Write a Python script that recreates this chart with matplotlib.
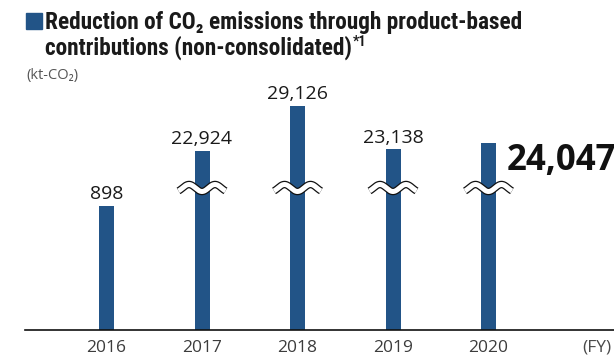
import numpy as np
import matplotlib
matplotlib.use("Agg")
import matplotlib.pyplot as plt
from matplotlib import font_manager
from matplotlib.patches import Rectangle
from matplotlib.transforms import blended_transform_factory

# ---- data ----
years = ["2016", "2017", "2018", "2019", "2020"]
values = [898, 22924, 29126, 23138, 24047]
labels = ["898", "22,924", "29,126", "23,138", "24,047"]
broken = [False, True, True, True, True]
title_lines = ["Reduction of CO\u2082 emissions through product-based",
               "contributions (non-consolidated)"]
title_note = "*1"
unit_label = "(kt-CO\u2082)"
x_unit = "(FY)"

# ---- fonts ----
avail = {f.name for f in font_manager.fontManager.ttflist}
body = "Open Sans" if "Open Sans" in avail else "DejaVu Sans"
cond = None
for cand in ["Liberation Sans Narrow", "Roboto Condensed", "Open Sans Condensed", "Roboto"]:
    if cand in avail:
        cond = cand
        break
if cond is None:
    cond = body
BODY = [body, "DejaVu Sans"]
COND = [cond, "DejaVu Sans"]

W, H, DPI = 614, 358, 100
fig = plt.figure(figsize=(W / DPI, H / DPI), dpi=DPI)
fig.patch.set_facecolor("white")

ax_left, ax_bottom_px, ax_top_px = 25, 330, 60
ax_h = ax_bottom_px - ax_top_px
ax = fig.add_axes([ax_left / W, (H - ax_bottom_px) / H, (W - ax_left) / W, ax_h / H])

# broken scale: value -> pixel height above baseline
slope = 45.0 / (29126 - 22924)
kv = np.array([-1e6, 0, 898, 22924, 1e6])
kp = np.array([-1e6 * 124 / 898, 0, 124, 179, 179 + (1e6 - 22924) * slope])


def fwd(v):
    return np.interp(v, kv, kp)


def inv(p):
    return np.interp(p, kp, kv)


ax.set_yscale("function", functions=(fwd, inv))
ax.set_ylim(0, inv(ax_h))

px_per_unit = 95.5
x0 = -81.5 / px_per_unit
ax.set_xlim(x0, x0 + (W - ax_left) / px_per_unit)

BAR = "#225487"
xs = np.arange(len(years))
ax.bar(xs, values, width=15 / px_per_unit, color=BAR, zorder=2)

for s in ["top", "left", "right"]:
    ax.spines[s].set_visible(False)
ax.spines["bottom"].set_color("#111111")
ax.spines["bottom"].set_linewidth(1.2)
ax.set_yticks([])
ax.set_xticks(xs)
ax.set_xticklabels(years, fontsize=12.5, color="#3c3c3c", family=BODY)
ax.tick_params(axis="x", length=0, pad=7)

bt = blended_transform_factory(ax.transData, ax.transAxes)
ax.text(x0 + (582 - ax_left) / px_per_unit, -(352 - ax_bottom_px) / ax_h, x_unit,
        transform=bt, fontsize=12.5, color="#4a4a4a", family=BODY, ha="left", va="baseline")

# value labels
for i, (v, lab) in enumerate(zip(values, labels)):
    if i == len(values) - 1:
        ax.text(i + 18 / px_per_unit, (ax_bottom_px - 170) / ax_h, lab, transform=bt,
                fontsize=25, fontweight="bold", family=BODY, color="#111111",
                ha="left", va="baseline", clip_on=False)
    else:
        ax.annotate(lab, (i, v), xytext=(0, 5), textcoords="offset points",
                    ha="center", va="baseline", fontsize=14, family=BODY, color="#1a1a1a")

# break marks (waves)
t = np.linspace(-23.5, 23.5, 200)
wy = 188 + 3.5 * np.cos(2 * np.pi * t / 26)
for i, b in enumerate(broken):
    if not b:
        continue
    xx = i + t / px_per_unit
    yy = (ax_bottom_px - wy) / ax_h
    ax.plot(xx, yy, transform=bt, color="#111111", lw=5.4, solid_capstyle="butt", zorder=3)
    ax.plot(xx, yy, transform=bt, color="white", lw=3.6, solid_capstyle="butt", zorder=4)

# title
fig.patches.append(Rectangle((26 / W, (H - 29) / H), 16 / W, 16 / H, transform=fig.transFigure,
                             color=BAR, figure=fig))
t1 = fig.text(45 / W, (H - 29) / H, title_lines[0], fontsize=15, fontweight="bold",
              family=COND, color="#1a1a1a", va="baseline", ha="left")
t2 = fig.text(45 / W, (H - 55) / H, title_lines[1], fontsize=15, fontweight="bold",
              family=COND, color="#1a1a1a", va="baseline", ha="left")
fig.canvas.draw()
r = fig.canvas.get_renderer()
wpx = t1.get_window_extent(r).width
fs = 15 * 478 / wpx
t1.set_fontsize(fs)
t2.set_fontsize(fs)
fig.canvas.draw()
ann = fig.text(0, 0, title_note, fontsize=fs * 0.6, fontweight="bold", family=COND,
               color="#1a1a1a", va="baseline", ha="left")
bb = t2.get_window_extent(r)
ann.set_position(((bb.x1 + 0.5) / W, (H - 45.5) / H))

fig.text(26 / W, (H - 79) / H, unit_label, fontsize=10.5, family=BODY, color="#555555",
         va="baseline", ha="left")

fig.savefig("out.png", dpi=DPI)
